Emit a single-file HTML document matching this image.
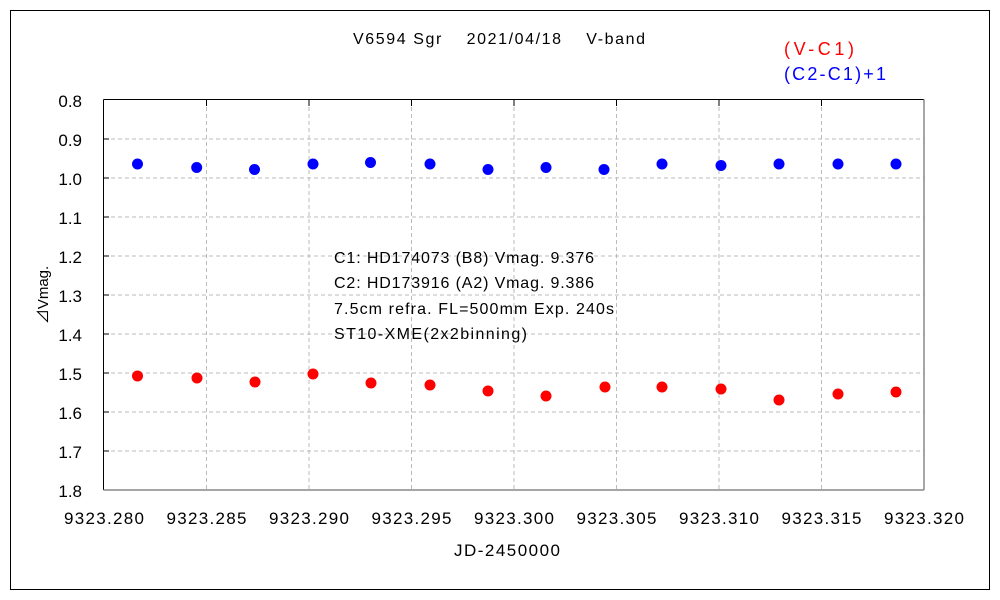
<!DOCTYPE html>
<html><head><meta charset="utf-8"><style>body{margin:0;background:#fff}svg{display:block}text{font-family:"Liberation Sans","Noto Sans CJK JP",sans-serif}</style></head><body>
<svg width="1000" height="600" viewBox="0 0 1000 600">
<rect x="10.5" y="10.5" width="979" height="579" fill="#fff" stroke="#000" stroke-width="1"/>
<g stroke="#bbb" stroke-dasharray="4,3" stroke-width="1">
<line x1="104" x2="924" y1="139" y2="139"/><line x1="104" x2="924" y1="178" y2="178"/><line x1="104" x2="924" y1="217" y2="217"/><line x1="104" x2="924" y1="256" y2="256"/><line x1="104" x2="924" y1="295" y2="295"/><line x1="104" x2="924" y1="334" y2="334"/><line x1="104" x2="924" y1="373" y2="373"/><line x1="104" x2="924" y1="412" y2="412"/><line x1="104" x2="924" y1="451" y2="451"/>
<line y1="100" y2="490" x1="206.5" x2="206.5"/><line y1="100" y2="490" x1="309" x2="309"/><line y1="100" y2="490" x1="411.5" x2="411.5"/><line y1="100" y2="490" x1="514" x2="514"/><line y1="100" y2="490" x1="616.5" x2="616.5"/><line y1="100" y2="490" x1="719" x2="719"/><line y1="100" y2="490" x1="821.5" x2="821.5"/>
</g>
<line x1="103.5" y1="99.5" x2="924" y2="99.5" stroke="#000"/>
<line x1="103.5" y1="99.5" x2="103.5" y2="490" stroke="#000"/>
<line x1="924" y1="99.5" x2="924" y2="490" stroke="#888" stroke-width="1.5"/>
<line x1="103.5" y1="490" x2="924" y2="490" stroke="#888" stroke-width="1.5"/>
<g stroke="#000"><line x1="206.5" x2="206.5" y1="100" y2="106"/><line x1="309" x2="309" y1="100" y2="106"/><line x1="411.5" x2="411.5" y1="100" y2="106"/><line x1="514" x2="514" y1="100" y2="106"/><line x1="616.5" x2="616.5" y1="100" y2="106"/><line x1="719" x2="719" y1="100" y2="106"/><line x1="821.5" x2="821.5" y1="100" y2="106"/>
<line x1="104" x2="109" y1="139" y2="139"/><line x1="104" x2="109" y1="178" y2="178"/><line x1="104" x2="109" y1="217" y2="217"/><line x1="104" x2="109" y1="256" y2="256"/><line x1="104" x2="109" y1="295" y2="295"/><line x1="104" x2="109" y1="334" y2="334"/><line x1="104" x2="109" y1="373" y2="373"/><line x1="104" x2="109" y1="412" y2="412"/><line x1="104" x2="109" y1="451" y2="451"/></g>
<g font-size="17" text-anchor="end" fill="#000">
<text x="82" y="107">0.8</text><text x="82" y="146">0.9</text><text x="82" y="185">1.0</text><text x="82" y="224">1.1</text><text x="82" y="263">1.2</text><text x="82" y="302">1.3</text><text x="82" y="341">1.4</text><text x="82" y="380">1.5</text><text x="82" y="419">1.6</text><text x="82" y="458">1.7</text><text x="82" y="497">1.8</text></g>
<g font-size="17" text-anchor="middle">
<text x="104" y="524" textLength="80">9323.280</text><text x="206.5" y="524" textLength="80">9323.285</text><text x="309" y="524" textLength="80">9323.290</text><text x="411.5" y="524" textLength="80">9323.295</text><text x="514" y="524" textLength="80">9323.300</text><text x="616.5" y="524" textLength="80">9323.305</text><text x="719" y="524" textLength="80">9323.310</text><text x="821.5" y="524" textLength="80">9323.315</text><text x="924" y="524" textLength="80">9323.320</text>
<text x="507" y="556" textLength="106">JD-2450000</text>
<text x="499" y="44" font-size="16" textLength="292">V6594 Sgr　 2021/04/18　 V-band</text>
</g>
<text transform="translate(48,295) rotate(-90)" font-size="15" text-anchor="middle">⊿Vmag.</text>
<text x="784" y="55" font-size="18" fill="#f00" textLength="70">(V-C1)</text>
<text x="784" y="80" font-size="18" fill="#00f" textLength="102">(C2-C1)+1</text>
<g font-size="16"><text x="334" y="263" textLength="260">C1: HD174073 (B8) Vmag. 9.376</text><text x="334" y="288" textLength="260">C2: HD173916 (A2) Vmag. 9.386</text><text x="334" y="314" textLength="280">7.5cm refra. FL=500mm  Exp. 240s</text><text x="334" y="339" textLength="193">ST10-XME(2x2binning)</text></g>
<g fill="#00f"><circle cx="137.5" cy="164" r="5.5"/><circle cx="196.7" cy="167.5" r="5.5"/><circle cx="254.5" cy="169.5" r="5.5"/><circle cx="313" cy="164" r="5.5"/><circle cx="370.5" cy="162.5" r="5.5"/><circle cx="430" cy="164" r="5.5"/><circle cx="488" cy="169.5" r="5.5"/><circle cx="546" cy="167.5" r="5.5"/><circle cx="604" cy="169.5" r="5.5"/><circle cx="662" cy="164" r="5.5"/><circle cx="721" cy="165.5" r="5.5"/><circle cx="779" cy="164" r="5.5"/><circle cx="838" cy="164" r="5.5"/><circle cx="896" cy="164" r="5.5"/></g>
<g fill="#f00"><circle cx="137.5" cy="376" r="5.5"/><circle cx="197" cy="378" r="5.5"/><circle cx="255" cy="382" r="5.5"/><circle cx="313" cy="374" r="5.5"/><circle cx="371" cy="383" r="5.5"/><circle cx="430" cy="385" r="5.5"/><circle cx="488" cy="391" r="5.5"/><circle cx="546" cy="396" r="5.5"/><circle cx="605" cy="387" r="5.5"/><circle cx="662" cy="387" r="5.5"/><circle cx="721" cy="389" r="5.5"/><circle cx="779" cy="400" r="5.5"/><circle cx="838" cy="394" r="5.5"/><circle cx="896" cy="392" r="5.5"/></g>
</svg>
</body></html>
